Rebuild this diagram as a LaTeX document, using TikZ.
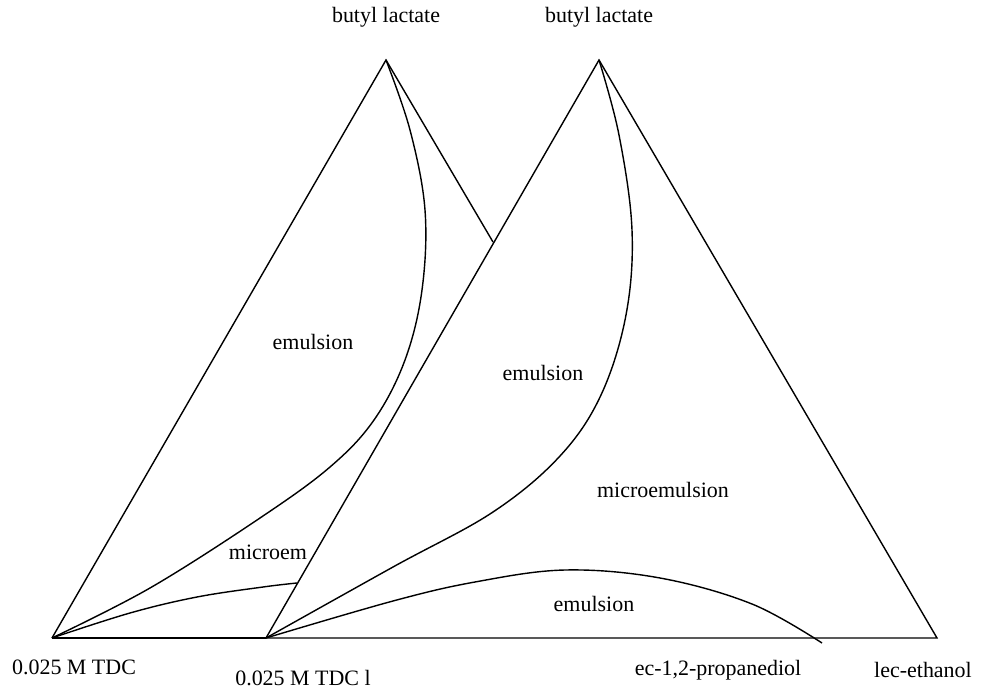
\documentclass[tikz,border=0pt]{standalone}
\usepackage{fontspec}
\setmainfont{Liberation Serif}

\begin{document}
\begin{tikzpicture}[x=0.02cm,y=-0.02cm,line width=0.8pt]
  \tikzstyle{lbl}=[font=\fontsize{12.5}{14}\selectfont,inner sep=0pt]
  \tikzstyle{phase}=[smooth,tension=0.6]
  \useasboundingbox (0,0) rectangle (987,696);
  % corners
  \coordinate(topA) at (386,60);
  \coordinate(leftA) at (52,638);
  \coordinate(cross) at (493,242);
  \coordinate(topB) at (599,60);
  \coordinate(leftB) at (266,638);
  \coordinate(rightB) at (937,638);
  \coordinate(endA) at (297,583);
  \coordinate(endB) at (822,643);
  % labels
  \node(top-a) at (386,17) [lbl]{butyl lactate};
  \node(top-b) at (599,17) [lbl]{butyl lactate};
  \node(left-a) at (74,667) [lbl]{0.025 M TDC};
  \node(left-b) at (303,678) [lbl]{0.025 M TDC l};
  \node(right-a) at (718,670) [lbl]{ec-1,2-propanediol};
  \node(right-b) at (923,670) [lbl]{lec-ethanol};
  \node(emul-a) at (313,342) [lbl]{emulsion};
  \node(micro-a) at (268,552) [lbl]{microem};
  \node(emul-b) at (543,373) [lbl]{emulsion};
  \node(micro-b) at (663,490) [lbl]{microemulsion};
  \node(emul-c) at (594,604) [lbl]{emulsion};
  % first triangle
  \draw(leftA)--(topA)--(cross);
  \draw(leftA)--(leftB);
  \draw plot[phase] coordinates{(topA) (410,130) (425,210) (422,290)
    (405,360) (374,420) (330,467) (260,518) (150,588) (leftA)};
  \draw plot[phase] coordinates{(leftA) (130,613) (197,597) (263,587) (endA)};
  % second triangle
  \draw(leftB)--(topB)--(rightB)--cycle;
  \draw plot[phase] coordinates{(topB) (619,135) (632,230) (626,315)
    (601,395) (560,456) (493,512) (393,567) (leftB)};
  \draw plot[phase] coordinates{(leftB) (393,601) (475,582) (565,570)
    (660,578) (752,604) (endB)};
\end{tikzpicture}
\end{document}
